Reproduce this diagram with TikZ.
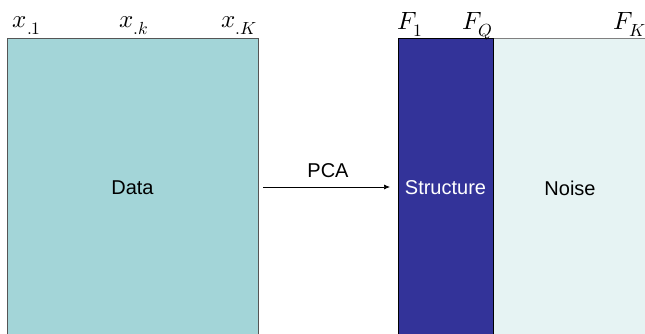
\documentclass[tikz,border=0pt]{standalone}
\usepackage{fontspec}
\setmainfont{Liberation Sans}
\usepackage{unicode-math}
\setmathfont{Latin Modern Math}
\usetikzlibrary{arrows.meta}
\definecolor{datafill}{HTML}{A3D5D8}
\definecolor{structfill}{HTML}{333399}
\definecolor{noisefill}{HTML}{E6F3F3}
\definecolor{edgegray}{HTML}{555555}
\tikzset{
  block/.style={anchor=north west, minimum height=300pt, inner sep=0pt, outer sep=0pt, line width=0.9pt, font=\fontsize{20}{24}\selectfont},
  mlabel/.style={anchor=base, inner sep=0pt, font=\fontsize{25}{30}\selectfont},
}
\begin{document}
\begin{tikzpicture}[x=1pt,y=-1pt]
\useasboundingbox (0,0) rectangle (645,334);
\node[block, draw=edgegray, fill=datafill, minimum width=251pt] (data) at (7,38) {Data};
\node[block, draw=gray, fill=noisefill, minimum width=154pt, text width=148pt, align=center] (noise) at (493,38) {Noise};
\node[block, draw=black, fill=structfill, text=white, minimum width=95pt] (struct) at (398,38) {Structure};
\draw[-{Latex[length=6pt,width=5pt]}, line width=0.7pt, shorten <=5pt, shorten >=8pt] (data.east |- 0,187) -- (struct.west |- 0,187) node[midway, above=6pt, font=\fontsize{20}{24}\selectfont] (pca) {PCA};
\node[mlabel] (x1) at (27,28) {$x_{.1}$};
\node[mlabel] (xk) at (134,28) {$x_{.k}$};
\node[mlabel] (xK) at (239,28) {$x_{.K}$};
\node[mlabel] (F1) at (410,30) {$F_1$};
\node[mlabel] (FQ) at (478,30) {$F_Q$};
\node[mlabel] (FK) at (630,30) {$F_K$};
\end{tikzpicture}
\end{document}
